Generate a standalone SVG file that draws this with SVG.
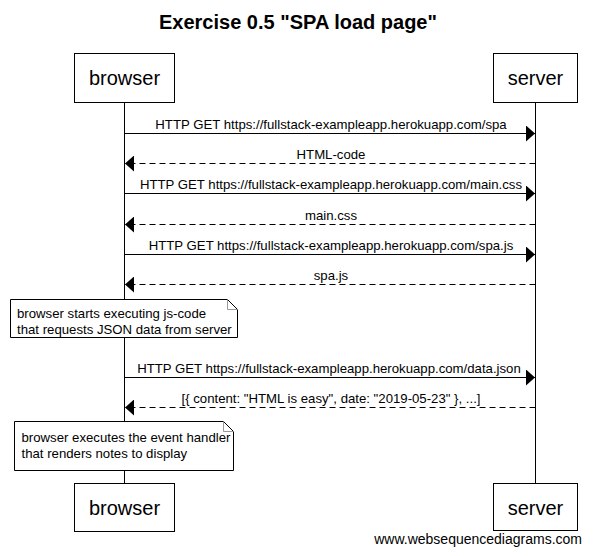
<svg xmlns="http://www.w3.org/2000/svg" width="593" height="556" viewBox="0 0 593 556">
<style>
text{font-family:"Liberation Sans",Arial,sans-serif;fill:#000}
.title{font-size:20px;font-weight:bold}
.actor rect{fill:#fff;stroke:#000;stroke-width:1}
.actor text{font-size:20px;text-anchor:middle}
.life{stroke:#000;stroke-width:1;fill:none}
.msg{stroke:#000;stroke-width:1;fill:none}
.dash{stroke-dasharray:6,4}
.lbl{font-size:13.2px;text-anchor:middle}
.note path.body{fill:#fff;stroke:#000;stroke-width:1}
.note path.fold{fill:none;stroke:#999;stroke-width:1}
.note text{font-size:13.2px}
.wm{font-size:14px;text-anchor:end}
</style>
<defs>
<marker id="ah" viewBox="0 0 9 16" refX="9" refY="8" markerWidth="9" markerHeight="16" markerUnits="userSpaceOnUse" orient="auto">
<path d="M0,0 L9,8 L0,16 Z" fill="#000"/>
</marker>
</defs>
<text class="title" x="298" y="29" text-anchor="middle">Exercise 0.5 "SPA load page"</text>
<g id="lifelines">
<line class="life" x1="124.5" y1="102" x2="124.5" y2="483"/>
<line class="life" x1="535.5" y1="102" x2="535.5" y2="483"/>
</g>
<g id="connectors">
<line class="msg" x1="124.5" y1="133.5" x2="535" y2="133.5" marker-end="url(#ah)"/>
<text class="lbl" x="331" y="128.5">HTTP GET https://fullstack-exampleapp.herokuapp.com/spa</text>
<line class="msg dash" x1="535.5" y1="163.5" x2="125" y2="163.5" marker-end="url(#ah)"/>
<text class="lbl" x="331" y="158.5">HTML-code</text>
<line class="msg" x1="124.5" y1="193.5" x2="535" y2="193.5" marker-end="url(#ah)"/>
<text class="lbl" x="331" y="188.5">HTTP GET https://fullstack-exampleapp.herokuapp.com/main.css</text>
<line class="msg dash" x1="535.5" y1="224.5" x2="125" y2="224.5" marker-end="url(#ah)"/>
<text class="lbl" x="331" y="219.5">main.css</text>
<line class="msg" x1="124.5" y1="254.5" x2="535" y2="254.5" marker-end="url(#ah)"/>
<text class="lbl" x="331" y="249.5">HTTP GET https://fullstack-exampleapp.herokuapp.com/spa.js</text>
<line class="msg dash" x1="535.5" y1="284.5" x2="125" y2="284.5" marker-end="url(#ah)"/>
<text class="lbl" x="331" y="279.5">spa.js</text>
<line class="msg" x1="124.5" y1="377.5" x2="535" y2="377.5" marker-end="url(#ah)"/>
<text class="lbl" x="329" y="372.5">HTTP GET https://fullstack-exampleapp.herokuapp.com/data.json</text>
<line class="msg dash" x1="535.5" y1="407.5" x2="125" y2="407.5" marker-end="url(#ah)"/>
<text class="lbl" x="331" y="402.5">[{ content: "HTML is easy", date: "2019-05-23" }, ...]</text>
</g>
<g id="browser-top" class="actor">
<rect x="74.5" y="53.5" width="100" height="49"/>
<text x="124.5" y="85">browser</text>
</g>
<g id="server-top" class="actor">
<rect x="493.5" y="53.5" width="84" height="49"/>
<text x="535.5" y="85">server</text>
</g>
<g id="note1" class="note">
<path class="body" d="M10.5,299.5 H227.5 L237.5,309.5 V337.5 H10.5 Z"/>
<path class="fold" d="M227.5,299.5 V309.5 H237.5"/>
<text x="17" y="318">browser starts executing js-code</text>
<text x="17" y="333.5">that requests JSON data from server</text>
</g>
<g id="note2" class="note">
<path class="body" d="M14.5,421.5 H223.5 L233.5,431.5 V470.5 H14.5 Z"/>
<path class="fold" d="M223.5,421.5 V431.5 H233.5"/>
<text x="21.5" y="441.5">browser executes the event handler</text>
<text x="21.5" y="458">that renders notes to display</text>
</g>
<g id="browser-bottom" class="actor">
<rect x="74.5" y="483.5" width="100" height="48"/>
<text x="124.5" y="514.5">browser</text>
</g>
<g id="server-bottom" class="actor">
<rect x="493.5" y="483.5" width="84" height="47"/>
<text x="535.5" y="514.5">server</text>
</g>
<text class="wm" x="582" y="544">www.websequencediagrams.com</text>
</svg>
